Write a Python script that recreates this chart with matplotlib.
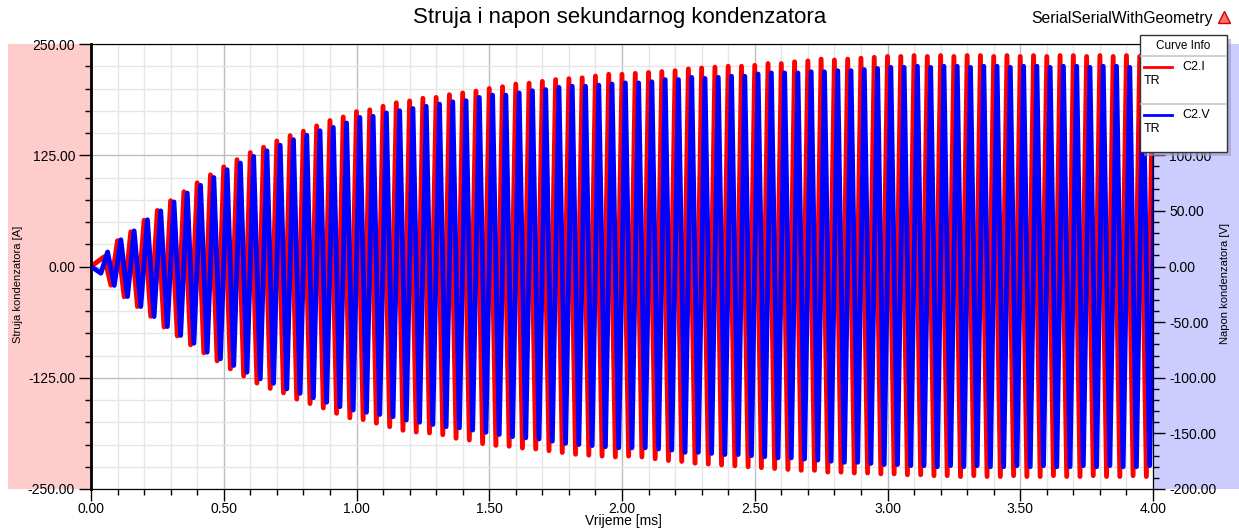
import numpy as np
import matplotlib
matplotlib.use("Agg")
import matplotlib.pyplot as plt
from matplotlib.patches import Rectangle
from matplotlib.lines import Line2D
from matplotlib.ticker import MultipleLocator, FormatStrFormatter, FuncFormatter

plt.rcParams['font.family'] = ['Liberation Sans', 'DejaVu Sans']

# oscillation period [ms], peaks
period = 0.05

# C2.I: positive peaks (t = k*period) and negative peaks (t = k*period + period/2), k = 1..80
i_top = [11, 29, 39, 52, 63, 74, 84, 94, 103, 112, 120, 128, 134, 141, 147, 152, 158, 164, 168, 174,
         176, 180, 184, 186, 189, 190, 193, 195, 197, 200, 202, 205, 206, 208, 210, 211, 212, 214, 216, 216,
         217, 218, 219, 220, 222, 223, 224, 225, 225, 226, 228, 228, 230, 231, 233, 232, 233, 234, 235, 236,
         236, 237, 236, 237, 236, 237, 237, 236, 237, 236, 237, 236, 237, 237, 236, 237, 236, 237, 236, 237]
i_bot = [21, 34, 45, 56, 68, 78, 88, 97, 106, 115, 123, 131, 137, 142, 149, 154, 159, 165, 170,
         172, 176, 180, 184, 186, 187, 189, 193, 195, 199, 201, 202, 204, 205, 207, 209, 211, 212, 213, 214,
         213, 214, 216, 218, 219, 221, 222, 223, 224, 225, 226, 227, 228, 229, 229, 231, 231, 232, 232, 233,
         233, 234, 234, 235, 235, 236, 235, 236, 236, 235, 236, 236, 235, 236, 236, 235, 236, 236, 235, 236, 236]

# C2.V: negative peaks (k = 0..79) and positive peaks (k = 1..80), lagging the current
v_bot = [6, 17, 27, 36, 45, 54, 62, 69, 77, 83, 89, 95, 101, 105, 110, 114, 118, 122, 126, 129,
         131, 133, 135, 138, 140, 142, 144, 145, 147, 149, 151, 153, 154, 155, 157, 159, 160, 161, 162, 163,
         163, 163, 164, 165, 167, 167, 168, 169, 169, 170, 171, 172, 172, 173, 174, 175, 176, 176, 177, 178,
         178, 179, 179, 180, 179, 180, 179, 180, 180, 179, 180, 179, 180, 180, 179, 180, 179, 180, 180, 179]
v_top = [13, 24, 32, 42, 50, 58, 66, 73, 80, 87, 93, 99, 104, 109, 114, 118, 122, 125, 129,
         134, 135, 138, 140, 142, 144, 146, 148, 149, 152, 154, 154, 156, 158, 159, 161, 162, 162, 163, 164,
         165, 165, 166, 168, 168, 170, 169, 170, 171, 171, 173, 174, 174, 174, 175, 175, 176, 176, 177, 178,
         179, 179, 180, 179, 180, 180, 179, 180, 180, 179, 180, 180, 179, 180, 180, 179, 180, 180, 179, 180, 180]

k = np.arange(1, len(i_top) + 1)
t_i = np.r_[0, np.column_stack([k * period, k * period + period / 2]).ravel()]
y_i = np.r_[0, np.column_stack([i_top, -np.array(i_bot)]).ravel()]

kv = np.arange(len(v_bot))
t_v = np.r_[0, np.column_stack([kv * period + 0.75 * period, (kv + 1) * period + 0.25 * period]).ravel()]
y_v = np.r_[0, np.column_stack([-np.array(v_bot), v_top]).ravel()]

W, H = 1239, 530
fig = plt.figure(figsize=(W / 100, H / 100), dpi=100)

def fx(px):
    return px / W

def fy(py):
    return 1 - py / H

# side bands
fig.patches.append(Rectangle((fx(8), fy(489)), fx(83), 445 / H, transform=fig.transFigure,
                             facecolor='#ffcccc', edgecolor='none', zorder=-5))
fig.patches.append(Rectangle((fx(1153), fy(489)), fx(86), 445 / H, transform=fig.transFigure,
                             facecolor='#ccccff', edgecolor='none', zorder=-5))

ax = fig.add_axes([fx(91), fy(489), fx(1062), 445 / H])
ax.set_facecolor('white')
ax.plot(t_i, y_i, color='red', lw=3.5)
ax.set_xlim(0, 4)
ax.set_ylim(-250, 250)
ax.xaxis.set_major_locator(MultipleLocator(0.5))
ax.xaxis.set_minor_locator(MultipleLocator(0.1))
ax.xaxis.set_major_formatter(FormatStrFormatter('%.2f'))
ax.yaxis.set_major_locator(MultipleLocator(125))
ax.yaxis.set_minor_locator(MultipleLocator(25))
ax.yaxis.set_major_formatter(FormatStrFormatter('%.2f'))
ax.grid(which='minor', color='#e6e6e6', lw=1)
ax.grid(which='major', color='#bdbdbd', lw=1)
ax.set_axisbelow(True)
ax.tick_params(which='major', length=8.5, width=1, labelsize=10, pad=3)
ax.tick_params(axis='x', which='major', pad=1)
ax.tick_params(which='minor', length=4, width=1)
ax.spines['left'].set_linewidth(2)
for s in ['top', 'bottom', 'right']:
    ax.spines[s].set_color('#222222')

ax2 = ax.twinx()
ax2.plot(t_v, y_v, color='blue', lw=3.5)
ax2.set_ylim(-200, 200)
ax2.yaxis.set_major_locator(MultipleLocator(50))
ax2.yaxis.set_minor_locator(MultipleLocator(10))
# top two labels sit under the curve info box
ax2.yaxis.set_major_formatter(FuncFormatter(lambda v, p: '' if v > 120 else '%.2f' % v))
ax2.tick_params(which='major', length=8.5, width=1, labelsize=10, pad=3)
ax2.tick_params(which='minor', length=4, width=1)

fig.text(fx(18), fy(284), 'Struja kondenzatora [A]', rotation=90, ha='center', va='center', fontsize=8)
fig.text(fx(1225), fy(284), 'Napon kondenzatora [V]', rotation=90, ha='center', va='center', fontsize=8)
fig.text(fx(623), fy(521), 'Vrijeme [ms]', ha='center', va='center', fontsize=10)
fig.text(fx(620), fy(18), 'Struja i napon sekundarnog kondenzatora', ha='center', va='center', fontsize=16)
fig.text(fx(1213), fy(19), 'SerialSerialWithGeometry', ha='right', va='center', fontsize=11.3)
fig.add_artist(Line2D([fx(1224)], [fy(17)], marker='^', markersize=8, markerfacecolor='#ff7070',
                      markeredgecolor='#cc0000', transform=fig.transFigure))

# curve info box
fig.patches.append(Rectangle((fx(1144), fy(156)), fx(87), 117 / H, transform=fig.transFigure,
                             facecolor='#9a9ac8', edgecolor='none', alpha=0.6, zorder=9))
fig.patches.append(Rectangle((fx(1140), fy(152)), fx(87), 117 / H, transform=fig.transFigure,
                             facecolor='white', edgecolor='#333333', lw=1, zorder=10))
for yy in [56, 104]:
    fig.add_artist(Line2D([fx(1141), fx(1226)], [fy(yy), fy(yy)], color='#c8c8c8', lw=1.2,
                          transform=fig.transFigure, zorder=11))
fig.text(fx(1183), fy(46), 'Curve Info', ha='center', va='center', fontsize=8.5, zorder=11)
for yy, col, name in [(67, 'red', 'C2.I'), (115, 'blue', 'C2.V')]:
    fig.add_artist(Line2D([fx(1144), fx(1172)], [fy(yy), fy(yy)], color=col, lw=2,
                          transform=fig.transFigure, zorder=11))
    fig.text(fx(1182), fy(yy), name, ha='left', va='center', fontsize=9, zorder=11)
    fig.text(fx(1144), fy(yy + 14), 'TR', ha='left', va='center', fontsize=9, zorder=11)

fig.savefig('out.png', dpi=100)
